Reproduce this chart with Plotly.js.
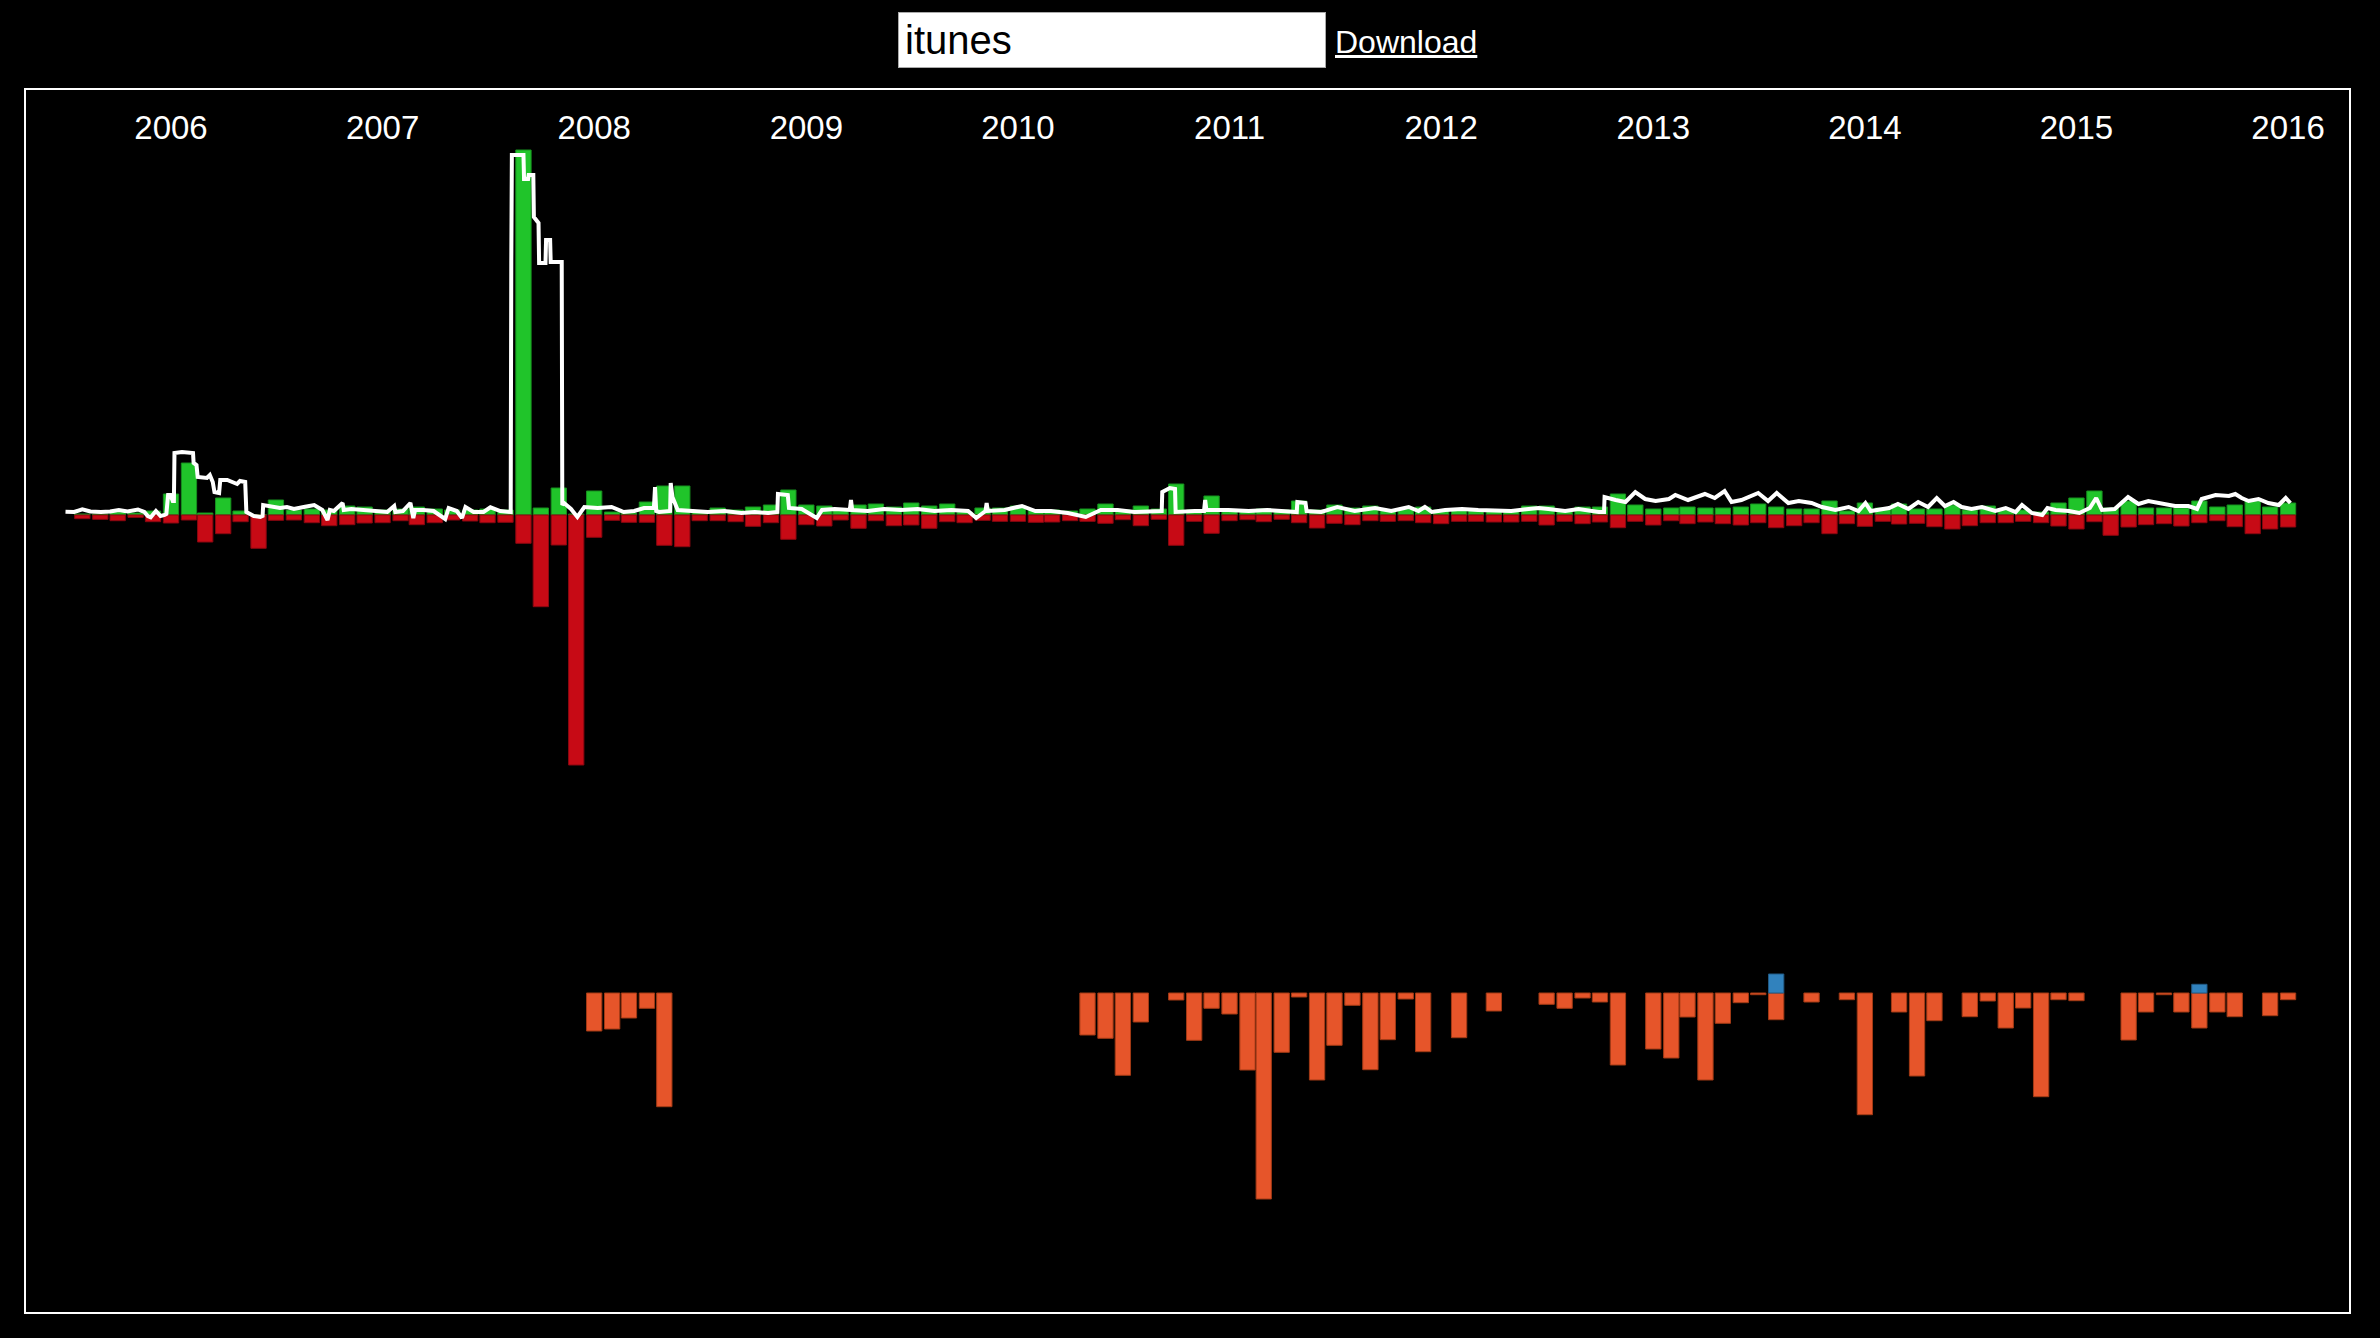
<!DOCTYPE html>
<html>
<head>
<meta charset="utf-8">
<script src="https://cdn.plot.ly/plotly-3.0.1.min.js"></script>
<style>
  html, body { margin: 0; padding: 0; background: #000; width: 2380px; height: 1338px; overflow: hidden; }
  #chart { position: absolute; left: 0; top: 0; width: 2380px; height: 1338px; }
  #search { position: absolute; left: 898px; top: 12px; width: 428px; height: 56px; box-sizing: border-box;
            border: 1px solid #aaa; background: #fff; color: #000; font-family: "Liberation Sans", Arial, sans-serif;
            font-size: 40px; padding: 0 0 0 6px; margin: 0; outline: none; z-index: 2; }
  #download { position: absolute; left: 1335px; top: 26px; font-family: "Liberation Sans", Arial, sans-serif;
              font-size: 32px; line-height: 32px; color: #fff; text-decoration: underline; z-index: 2; }
</style>
</head>
<body>
<div id="chart"></div>
<input id="search" type="text" value="itunes">
<a id="download" href="#">Download</a>
<script>
// ---- data (monthly, first month Aug 2005) ----
const firstYear = 2005, firstMonthIndex = 7; // August 2005

const added = [1, 1, 3, 2, 4, 21, 52, 2, 17, 4,
  0.5, 15, 5, 6, 5, 9, 8, 5, 6, 8,
  6, 5, 5, 6, 5, 365, 7, 27, 1, 24,
  3, 2, 13, 29, 29, 3, 7, 5, 8, 10,
  25, 10, 9, 5, 10, 11, 8, 12, 9, 11,
  3, 7, 7, 9, 5, 5, 4, 6, 11, 5,
  9, 6, 31, 5, 19, 5, 5, 6, 5, 14,
  5, 10, 7, 9, 5, 6, 8, 5, 6, 5,
  4, 5, 9, 9, 5, 8, 8, 21, 10, 6,
  7, 8, 7, 7, 8, 11, 8, 6, 6, 14,
  4, 12, 7, 11, 6, 6, 10, 5, 9, 5,
  5, 3, 12, 17, 24, 7, 14, 7, 7, 7,
  14, 8, 10, 14, 8, 12];

const removed = [-3.7, -4.3, -5.7, -2.3, -6.7, -8, -5, -27, -18.7, -6.7,
  -33.3, -5.3, -5, -7.7, -10.7, -9.7, -8, -7.7, -5.7, -9.7,
  -7.7, -5, -6, -7.7, -7.3, -28.3, -91.7, -30, -250, -22.3,
  -5.3, -7.3, -7.3, -30.3, -31.7, -5.7, -5.7, -6.7, -11.3, -7.7,
  -24.3, -9.7, -11, -5, -13.3, -5.7, -10.7, -10, -13.3, -6.7,
  -7.7, -5.3, -6.3, -6.3, -7.3, -7, -5.7, -6.3, -8.3, -4.7,
  -10.7, -4.3, -30.3, -6.3, -18.3, -5.7, -4.7, -6.7, -4.3, -7.7,
  -13, -8.3, -9.7, -5.7, -6.3, -5.7, -7.7, -8.7, -6.3, -6.3,
  -7, -7, -6.3, -10, -6.3, -8.7, -7, -12.7, -6.3, -10,
  -5.7, -8.7, -7, -8.7, -10, -7.7, -12.7, -10.7, -7.7, -18.7,
  -8.7, -11.3, -6.3, -9, -8.3, -11.7, -14, -10.7, -7.7, -7.7,
  -6.3, -7.7, -11, -14, -6.7, -20.3, -12, -9.7, -8.7, -11,
  -7.7, -5.7, -11.7, -18.7, -14, -12];

// lower panel: monthly net change (sparse months)
const lowerNegMonths = ['2008-01-01','2008-02-01','2008-03-01','2008-04-01','2008-05-01',
  '2010-05-01','2010-06-01','2010-07-01','2010-08-01','2010-10-01','2010-11-01','2010-12-01',
  '2011-01-01','2011-02-01','2011-03-01','2011-04-01','2011-05-01','2011-06-01','2011-07-01','2011-08-01',
  '2011-09-01','2011-10-01','2011-11-01','2011-12-01','2012-02-01','2012-04-01','2012-07-01','2012-08-01',
  '2012-09-01','2012-10-01','2012-11-01','2013-01-01','2013-02-01','2013-03-01','2013-04-01','2013-05-01',
  '2013-06-01','2013-07-01','2013-08-01','2013-10-01','2013-12-01','2014-01-01','2014-03-01','2014-04-01',
  '2014-05-01','2014-07-01','2014-08-01','2014-09-01','2014-10-01','2014-11-01','2014-12-01','2015-01-01',
  '2015-04-01','2015-05-01','2015-06-01','2015-07-01','2015-08-01','2015-09-01','2015-10-01','2015-12-01',
  '2016-01-01'];
const lowerNegValues = [-38, -36, -25, -15.3, -113.7,
  -42, -45.3, -82.3, -29, -7, -47.3, -15.3,
  -21, -77, -206, -59.3, -4, -87, -52.3, -12.3,
  -76.7, -46.7, -6, -58.7, -44.7, -18, -11.3, -15.3,
  -5, -9, -72, -56, -65, -24, -87, -30.3,
  -9.7, -1.7, -26.7, -9, -6.7, -121.7, -19, -83,
  -27.7, -23.7, -8, -35, -15, -103.7, -6.7, -7.7,
  -47, -19, -1.7, -19, -35, -19, -23.7, -22.7,
  -6.7];
const lowerPosMonths = ['2013-08-01', '2015-08-01'];
const lowerPosValues = [19, 8.7];

// running level (white line)
const lineDates = ['2005-07-03','2005-07-18','2005-08-01','2005-08-15','2005-09-02','2005-09-18','2005-10-03','2005-10-18',
  '2005-11-05','2005-11-16','2005-11-22','2005-11-27','2005-12-06','2005-12-14','2005-12-21','2005-12-24',
  '2005-12-27','2005-12-31','2006-01-04','2006-01-06','2006-01-07','2006-01-20','2006-02-08','2006-02-09',
  '2006-02-14','2006-02-16','2006-03-04','2006-03-09','2006-03-14','2006-03-17','2006-03-25','2006-03-27',
  '2006-04-08','2006-04-16','2006-04-25','2006-04-30','2006-05-09','2006-05-11','2006-05-24','2006-06-04',
  '2006-06-08','2006-06-09','2006-06-27','2006-07-08','2006-07-20','2006-08-01','2006-08-18','2006-09-05',
  '2006-09-19','2006-09-28','2006-10-02','2006-10-09','2006-10-24','2006-10-26','2006-11-08','2006-11-24',
  '2006-12-16','2007-01-09','2007-01-21','2007-01-23','2007-02-05','2007-02-18','2007-02-23','2007-02-26',
  '2007-03-12','2007-03-30','2007-04-19','2007-04-25','2007-05-09','2007-05-18','2007-05-24','2007-06-07',
  '2007-06-24','2007-07-06','2007-07-23','2007-08-10','2007-08-11','2007-08-12','2007-09-01','2007-09-02',
  '2007-09-09','2007-09-10','2007-09-18','2007-09-19','2007-09-27','2007-09-28','2007-10-09','2007-10-10',
  '2007-10-17','2007-10-18','2007-11-06','2007-11-07','2007-11-10','2007-11-22','2007-12-03','2007-12-15',
  '2008-01-07','2008-01-31','2008-02-21','2008-03-10','2008-03-27','2008-04-13','2008-04-15','2008-04-17',
  '2008-04-22','2008-05-06','2008-05-11','2008-05-12','2008-05-15','2008-05-24','2008-06-16','2008-07-15',
  '2008-08-13','2008-09-11','2008-10-04','2008-10-27','2008-11-12','2008-11-13','2008-11-30','2008-12-02',
  '2008-12-24','2009-01-19','2009-01-28','2009-02-19','2009-03-17','2009-03-19','2009-03-21','2009-04-17',
  '2009-05-15','2009-06-13','2009-07-12','2009-08-10','2009-09-08','2009-10-07','2009-10-21','2009-11-06',
  '2009-11-08','2009-11-10','2009-12-09','2010-01-08','2010-01-31','2010-02-27','2010-03-28','2010-04-28',
  '2010-05-24','2010-06-22','2010-07-21','2010-08-19','2010-09-06','2010-09-07','2010-09-20','2010-09-29',
  '2010-09-30','2010-11-02','2010-11-18','2010-11-20','2010-11-22','2010-12-30','2011-02-03','2011-03-07',
  '2011-04-11','2011-04-27','2011-04-28','2011-05-12','2011-05-14','2011-06-08','2011-07-06','2011-08-05',
  '2011-09-09','2011-10-07','2011-11-06','2011-11-23','2011-12-04','2011-12-16','2012-01-08','2012-02-06',
  '2012-03-05','2012-04-03','2012-05-01','2012-05-31','2012-06-17','2012-07-04','2012-08-02','2012-08-25',
  '2012-09-12','2012-09-29','2012-10-08','2012-10-09','2012-10-28','2012-11-14','2012-12-01','2012-12-18',
  '2013-01-05','2013-01-28','2013-02-08','2013-03-02','2013-03-31','2013-04-17','2013-05-04','2013-05-16',
  '2013-06-02','2013-07-01','2013-07-18','2013-08-02','2013-08-22','2013-09-09','2013-10-01','2013-10-19',
  '2013-11-11','2013-12-04','2013-12-21','2014-01-02','2014-01-11','2014-01-26','2014-02-12','2014-02-27',
  '2014-03-17','2014-04-03','2014-04-20','2014-05-05','2014-05-19','2014-06-03','2014-06-17','2014-07-04',
  '2014-07-22','2014-08-14','2014-09-01','2014-09-18','2014-09-29','2014-10-16','2014-11-03','2014-11-12',
  '2014-11-26','2014-12-19','2015-01-06','2015-01-24','2015-02-04','2015-02-14','2015-03-08','2015-03-31',
  '2015-04-18','2015-05-05','2015-05-28','2015-06-20','2015-07-13','2015-07-28','2015-08-05','2015-08-29',
  '2015-09-21','2015-10-02','2015-10-13','2015-10-25','2015-11-11','2015-11-28','2015-12-16','2015-12-28',
  '2016-01-05'];
const lineValues = [3.3, 3, 5.7, 3.5, 3, 3.5, 5, 3.5,
  5.5, 3, -1, -2.3, 4, -1, 0, 1,
  20, 20, 14, 14, 62, 63, 62, 52,
  50, 38, 37, 40, 33, 23, 22, 35,
  35, 33, 31, 34, 33, 3, -1, -2,
  -1, 10, 8, 7, 8, 6, 8, 10,
  5, -5, 5, 4, 12, 5, 6, 5,
  4, 3, 9, 3, 4, 12, -3, 5,
  5, 4, -4, 7, 4, -3, 8, 3,
  3, 7.7, 4, 3, 253, 360, 360, 336,
  336, 340, 340, 298, 292, 252, 252, 275,
  275, 253, 253, 10, 12, 6, -2, 8,
  7, 8, 3, 4, 7, 7, 28, 4,
  3, 3, 4, 32, 18, 5, 4, 3,
  4, 2, 3, 2, 3, 21, 20, 7,
  6, -3, 5, 6, 5, 15, 5, 4,
  6, 5, 6, 4, 5, 4, -3, 4,
  12, 4, 5, 9, 4, 4, 2, -2,
  5, 5, 3, 4, 4, 23, 27, 26,
  3, 4, 4, 15, 5, 5, 4, 5,
  3, 3, 13, 12, 4, 3, 8, 4,
  7, 4, 8, 4, 8, 3, 5, 6,
  5, 4, 4, 6, 7, 6, 4, 6,
  4, 3, 3, 18, 15, 13, 23, 16,
  14, 16, 20, 15, 21, 17, 24, 13,
  15, 22, 14, 22, 12, 14, 12, 8,
  5, 8, 4, 12, 4, 5, 7, 11,
  6, 13, 8, 17, 9, 13, 8, 6,
  8, 4, 7, 3, 10, 2, 0, 7,
  5, 4, 2, 7, 17, 5, 6, 18,
  11, 14, 12, 9, 9, 6, 16, 20,
  19, 21, 17, 14, 16, 12, 10, 17,
  12];

// month list for the monthly bars
const months = added.map((_, k) => new Date(Date.UTC(firstYear, firstMonthIndex + k, 1)).toISOString().slice(0, 10));

const DAY = 86400000;
const barWidth = 26.4 * DAY;

const traces = [
  { type: 'bar', x: months, y: added, width: barWidth, xaxis: 'x', yaxis: 'y',
    marker: { color: '#20c42a', line: { color: '#17901f', width: 1 } }, hoverinfo: 'skip' },
  { type: 'bar', x: months, y: removed, width: barWidth, xaxis: 'x', yaxis: 'y',
    marker: { color: '#c70a15', line: { color: '#8a0710', width: 1 } }, hoverinfo: 'skip' },
  { type: 'scatter', mode: 'lines', x: lineDates, y: lineValues, xaxis: 'x', yaxis: 'y',
    line: { color: '#ffffff', width: 4 }, hoverinfo: 'skip' },
  { type: 'bar', x: lowerNegMonths, y: lowerNegValues, width: barWidth, xaxis: 'x', yaxis: 'y2',
    marker: { color: '#e6552a', line: { color: '#a23a15', width: 1 } }, hoverinfo: 'skip' },
  { type: 'bar', x: lowerPosMonths, y: lowerPosValues, width: barWidth, xaxis: 'x', yaxis: 'y2',
    marker: { color: '#3182bd', line: { color: '#215a85', width: 1 } }, hoverinfo: 'skip' }
];

const W = 2380, H = 1338;
const layout = {
  width: W, height: H,
  paper_bgcolor: '#000', plot_bgcolor: '#000',
  margin: { l: 0, r: 0, t: 0, b: 0, pad: 0 },
  showlegend: false,
  barmode: 'overlay',
  xaxis: {
    type: 'date', range: ['2005-03-12 00:30', '2016-06-07 14:24'],
    side: 'top', anchor: 'free', position: 1 - 146 / H,
    showgrid: false, zeroline: false, showline: false, ticks: '',
    tick0: '2006-01-01', dtick: 'M12', tickformat: '%Y',
    tickfont: { family: 'Liberation Sans, Arial, sans-serif', size: 33, color: '#ffffff' },
    automargin: false, fixedrange: true
  },
  yaxis: { domain: [0, 1], range: [515 - H, 515], visible: false, showgrid: false, zeroline: false, fixedrange: true },
  yaxis2: { overlaying: 'y', range: [993 - H, 993], visible: false, showgrid: false, zeroline: false, fixedrange: true },
  shapes: [
    { type: 'rect', xref: 'paper', yref: 'paper', x0: 25 / W, x1: 2350 / W, y0: 1 - 1313 / H, y1: 1 - 89 / H,
      line: { color: '#ffffff', width: 2 }, fillcolor: 'rgba(0,0,0,0)', layer: 'below' }
  ]
};

Plotly.newPlot('chart', traces, layout, { displayModeBar: false, staticPlot: true });
</script>
</body>
</html>
